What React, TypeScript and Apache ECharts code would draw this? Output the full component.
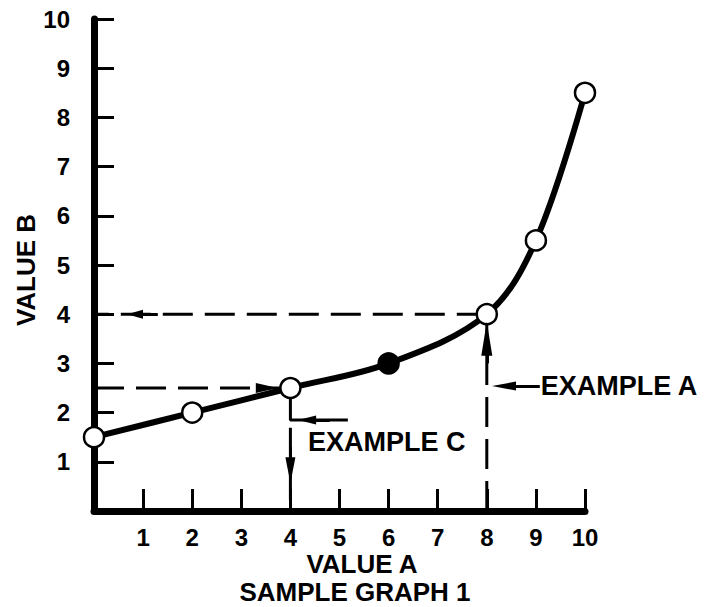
import React, { useEffect, useRef } from "react";
import * as echarts from "echarts";

// Curve data (Value A vs Value B)
const valueA = [0, 2, 4, 6, 8, 9, 10];
const valueB = [1.5, 2, 2.5, 3, 4, 5.5, 8.5];
const filledPoint = [false, false, false, true, false, false, false];

// Axis tick labels
const xTicks = [1, 2, 3, 4, 5, 6, 7, 8, 9, 10];
const yTicks = [1, 2, 3, 4, 5, 6, 7, 8, 9, 10];

// Dashed read-off guides (data coordinates)
const guideY4 = [[8, 4], [0, 4]];
const guideY25 = [[0, 2.5], [4, 2.5]];
const guideX8 = [[8, 0], [8, 4]];
const guideX4 = [[4, 1.69], [4, 0]];

// Example C callout elbow
const calloutC = [[4, 2.5], [4, 1.85], [5.17, 1.85]];

// Arrow segments [from, to] in data coordinates
const arrowFrom = [[1.3, 4], [3.3, 2.5], [4, 1.3], [8, 3.0], [4.8, 1.85], [9.08, 2.54]];
const arrowTo = [[0.835, 4], [3.52, 2.5], [4, 0.83], [8, 3.5], [4.34, 1.85], [8.35, 2.54]];

// Annotation texts
const noteTexts = ["EXAMPLE C", "EXAMPLE A"];
const notePos = [[4.36, 1.4], [9.1, 2.54]];

export default function App() {
  const ref = useRef<HTMLDivElement>(null);

  useEffect(() => {
    const chart = echarts.init(ref.current!, null, { renderer: "svg" });
    const font = "'Liberation Sans', Arial, Helvetica, sans-serif";
    const arrowSizes = [[9, 16], [10, 22], [10, 26], [11, 34], [9, 18], [9, 24]];

    const dashed = (data: number[][]) => ({
      type: "line",
      data,
      symbol: "none",
      silent: true,
      lineStyle: { color: "#000", width: 3, type: [30, 12] },
      z: 2,
    });

    const titleStyle = (text: string) => ({
      text,
      font: `bold 26px ${font}`,
      lineHeight: 22,
      fill: "#000",
      opacity: 1,
      textAlign: "center",
      textVerticalAlign: "middle",
    });

    chart.setOption({
      animation: false,
      backgroundColor: "#fff",
      grid: { left: 94, top: 19, width: 491, height: 492, outerBoundsMode: "none" },
      xAxis: {
        type: "value",
        min: 0,
        max: 10,
        interval: 1,
        axisLine: { show: true, onZero: false, lineStyle: { color: "#000", width: 7 } },
        axisTick: { show: true, inside: true, length: 22, lineStyle: { color: "#000", width: 3 } },
        axisLabel: {
          margin: 14,
          color: "#000",
          fontSize: 24,
          fontWeight: "bold",
          fontFamily: font,
          formatter: (v: number) => (xTicks.includes(v) ? String(v) : ""),
        },
        splitLine: { show: false },
      },
      yAxis: {
        type: "value",
        min: 0,
        max: 10,
        interval: 1,
        axisLine: { show: true, onZero: false, lineStyle: { color: "#000", width: 7 } },
        axisTick: { show: true, inside: true, length: 20, lineStyle: { color: "#000", width: 3 } },
        axisLabel: {
          margin: 24,
          color: "#000",
          fontSize: 24,
          fontWeight: "bold",
          fontFamily: font,
          formatter: (v: number) => (yTicks.includes(v) ? String(v) : ""),
        },
        splitLine: { show: false },
      },
      graphic: [
        { type: "text", x: 362, y: 564, style: titleStyle("VALUE A") },
        { type: "text", x: 355, y: 592, style: titleStyle("SAMPLE GRAPH 1") },
        { type: "text", x: 26, y: 270, rotation: Math.PI / 2, style: titleStyle("VALUE B") },
      ],
      series: [
        dashed(guideY4),
        dashed(guideY25),
        dashed(guideX8),
        {
          ...dashed(guideX4),
          markLine: {
            silent: true,
            symbol: ["none", "triangle"],
            label: { show: false },
            emphasis: { disabled: true },
            lineStyle: { color: "#000", width: 3, type: "solid", opacity: 1 },
            itemStyle: { color: "#000", opacity: 1 },
            data: arrowFrom.map((f, i) => [
              { coord: f, symbol: "none" },
              { coord: arrowTo[i], symbol: "triangle", symbolSize: arrowSizes[i] },
            ]),
          },
        },
        {
          type: "line",
          data: calloutC,
          symbol: "none",
          silent: true,
          lineStyle: { color: "#000", width: 3 },
          z: 2,
        },
        {
          type: "line",
          data: valueA.map((x, i) => [x, valueB[i]]),
          smooth: 0.35,
          symbol: "none",
          silent: true,
          lineStyle: { color: "#000", width: 6 },
          z: 3,
        },
        {
          type: "scatter",
          data: valueA.map((x, i) => ({
            value: [x, valueB[i]],
            itemStyle: { color: filledPoint[i] ? "#000" : "#fff" },
          })),
          symbol: "circle",
          symbolSize: 20,
          silent: true,
          itemStyle: { borderColor: "#000", borderWidth: 2.5, opacity: 1 },
          z: 4,
        },
        {
          type: "scatter",
          data: notePos.map((p, i) => ({ value: p, name: noteTexts[i] })),
          symbolSize: 0,
          silent: true,
          itemStyle: { opacity: 1 },
          label: {
            show: true,
            position: "right",
            distance: 0,
            formatter: (p: any) => p.name,
            color: "#000",
            opacity: 1,
            fontSize: 27,
            fontWeight: "bold",
            fontFamily: font,
          },
          z: 5,
        },
      ],
    });

    return () => chart.dispose();
  }, []);

  return (
    <div
      ref={ref}
      style={{ position: "fixed", left: 0, top: 0, width: 714, height: 607, background: "#fff" }}
    />
  );
}
